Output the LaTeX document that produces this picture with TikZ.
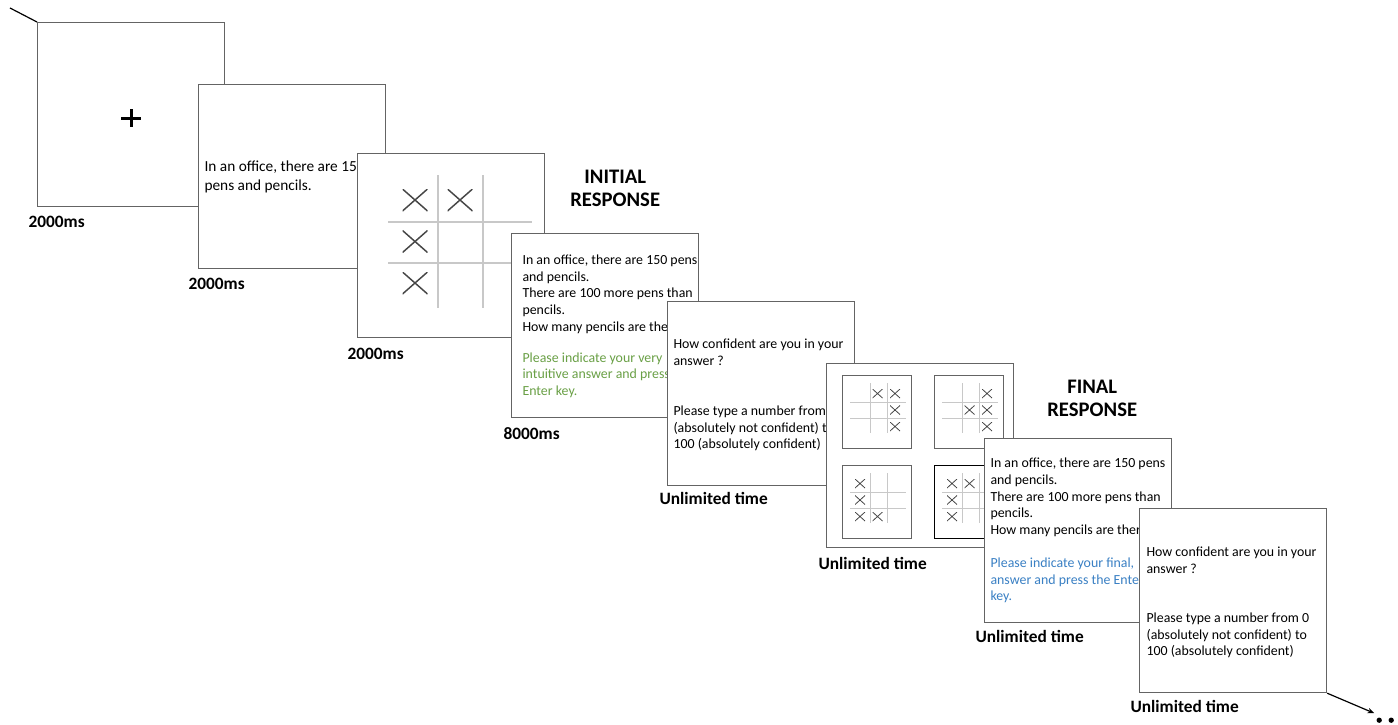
\documentclass[tikz,border=0pt]{standalone}
\usepackage{fontspec}
\setmainfont{Carlito}
\usetikzlibrary{arrows.meta,positioning,calc}

\definecolor{frame}{RGB}{100,100,100}
\definecolor{gridgray}{RGB}{200,200,200}
\definecolor{markgray}{RGB}{70,70,70}
\definecolor{firstgreen}{RGB}{106,160,70}
\definecolor{finalblue}{RGB}{58,128,196}

\begin{document}
\begin{tikzpicture}[
    x=0.75pt, y=-0.75pt,
    >={Stealth[length=5pt,width=4pt]},
    screen/.style={draw=frame, fill=white, line width=0.9pt, anchor=north west, minimum width=140.25pt, minimum height=138pt, inner sep=0pt},
    msg/.style={anchor=north west, inner sep=0pt, align=left, font=\fontsize{10.4}{12.5}\selectfont},
    timelab/.style={anchor=base west, inner sep=0pt, font=\fontsize{13}{15}\selectfont\bfseries},
    phase/.style={align=center, inner sep=0pt, font=\fontsize{15.5}{17.25}\selectfont\bfseries},
    board/.style={draw=frame, line width=0.8pt, fill=white, minimum width=51.75pt, minimum height=54.75pt, anchor=north west, inner sep=0pt},
    gridline/.style={gridgray, line width=0.8pt},
    cross/.style={inner sep=0pt, path picture={
        \draw[#1] (path picture bounding box.north west) -- (path picture bounding box.south east)
                  (path picture bounding box.south west) -- (path picture bounding box.north east);}},
    bigx/.style={cross={markgray, line width=1.1pt}, minimum width=18.75pt, minimum height=16.5pt},
    smallx/.style={cross={markgray, line width=0.6pt}, minimum width=7.5pt, minimum height=6.75pt},
    line width=0.8pt]
  \useasboundingbox (0,0) rectangle (1398,724);

  % fixation
  \node[screen] (p1) at (37,22) {};
  \draw[line width=0.9pt] (p1.north west) -- ++(-27,-14);
  \draw[line width=2.1pt] ([shift={(-10,3.5)}]p1.center) -- ++(20,0)
                          ([shift={(0,-5.5)}]p1.center) -- ++(0,18);
  \node[timelab] (t1) at ([shift={(-9,20)}]p1.south west) {2000ms};

  % premise
  \node[screen] (p2) at (198,84) {};
  \node[msg, font=\fontsize{11.5}{14.25}\selectfont] (q2) at ([shift={(6,76.5)}]p2.north west)
    {In an office, there are 15\\pens and pencils.};
  \node[timelab] (t2) at ([shift={(-10,20)}]p2.south west) {2000ms};

  % dot memory load
  \node[screen] (p3) at (357,153) {};
  \foreach \gx in {81,126} { \draw[gridline] ([shift={(\gx,22)}]p3.north west) -- ++(0,133); }
  \foreach \gy in {69,110} { \draw[gridline] ([shift={(31,\gy)}]p3.north west) -- ++(144,0); }
  \foreach \c/\r [count=\k] in {0/0,1/0,0/1,0/2}
    \node[bigx] (bx\k) at ([shift={(58+45*\c,47+41.5*\r)}]p3.north west) {};
  \node[timelab] (t3) at ([shift={(-10,21)}]p3.south west) {2000ms};
  \node[phase] (initial) at ([shift={(70,35.5)}]p3.north east) {INITIAL\\RESPONSE};

  % initial response
  \node[screen] (p4) at (511,233) {};
  \node[msg] (q4) at ([shift={(11,21.5)}]p4.north west)
    {In an office, there are 150 pens\\and pencils.\\There are 100 more pens than\\pencils.\\How many pencils are the\\[10.75pt]
     \textcolor{firstgreen}{Please indicate your very}\\\textcolor{firstgreen}{intuitive answer and press}\\\textcolor{firstgreen}{Enter key.}};
  \node[timelab] (t4) at ([shift={(-8,21)}]p4.south west) {8000ms};

  % confidence 1
  \node[screen] (p5) at (667,301) {};
  \node[msg] (q5) at ([shift={(6,37.5)}]p5.north west)
    {How confident are you in your\\answer ?\\[25pt]Please type a number from\\(absolutely not confident) t\\100 (absolutely confident)};
  \node[timelab] (t5) at ([shift={(-8,18)}]p5.south west) {Unlimited time};

  % memory recall
  \node[screen] (p6) at (826,363) {};
  \foreach \bx/\by/\nm in {16/12/tl,108/12/tr,16/102/bl}
    \node[board] (\nm) at ([shift={(\bx,\by)}]p6.north west) {};
  \node[board, draw=black, line width=1.1pt] (br) at ([shift={(108,102)}]p6.north west) {};
  \foreach \b in {tl,tr,bl,br} {
    \foreach \gx in {28,45} { \draw[gridline, line width=0.6pt] ([shift={(\gx,8)}]\b.north west) -- ++(0,50); }
    \foreach \gy in {27,43} { \draw[gridline, line width=0.6pt] ([shift={(8,\gy)}]\b.north west) -- ++(56,0); }
  }
  \foreach \b/\c/\r [count=\k] in {tl/1/0,tl/2/0,tl/2/1,tl/2/2,tr/2/0,tr/1/1,tr/2/1,tr/2/2,
                                   bl/0/0,bl/0/1,bl/0/2,bl/1/2,br/0/0,br/1/0,br/0/1,br/0/2}
    \node[smallx] (sx\k) at ([shift={(18+17.5*\c,18.5+16.5*\r)}]\b.north west) {};
  \node[timelab] (t6) at ([shift={(-8,21)}]p6.south west) {Unlimited time};
  \node[phase] (final) at ([shift={(78,35)}]p6.north east) {FINAL\\RESPONSE};

  % final response
  \node[screen] (p7) at (984,438) {};
  \node[msg] (q7) at ([shift={(6,19.5)}]p7.north west)
    {In an office, there are 150 pens\\and pencils.\\There are 100 more pens than\\pencils.\\How many pencils are ther\\[12.25pt]
     \textcolor{finalblue}{Please indicate your final,}\\\textcolor{finalblue}{answer and press the Ente}\\\textcolor{finalblue}{key.}};
  \node[timelab] (t7) at ([shift={(-9,19)}]p7.south west) {Unlimited time};

  % confidence 2
  \node[screen] (p8) at (1139,508) {};
  \node[msg] (q8) at ([shift={(7,38.5)}]p8.north west)
    {How confident are you in your\\answer ?\\[24.25pt]Please type a number from 0\\(absolutely not confident) to\\100 (absolutely confident)};
  \node[timelab] (t8) at ([shift={(-9,19)}]p8.south west) {Unlimited time};

  \coordinate (more) at ([shift={(47,20)}]p8.south east);
  \draw[->, line width=0.9pt] (p8.south east) -- (more);
  \fill ([shift={(5,7)}]more) circle (2pt) ++(12,0) circle (2pt);
\end{tikzpicture}
\end{document}
